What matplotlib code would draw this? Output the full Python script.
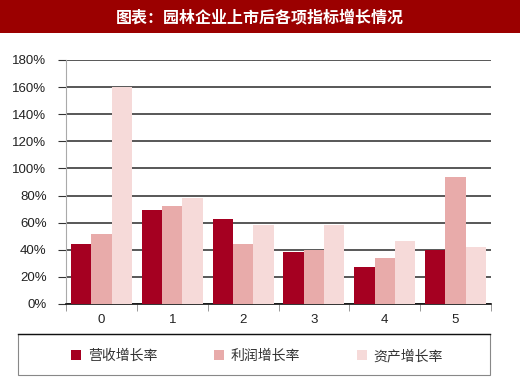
import matplotlib.pyplot as plt
import matplotlib.patches as mpatches
import numpy as np

plt.rcParams['font.family'] = ['Liberation Sans', 'Noto Sans CJK SC', 'DejaVu Sans']

# data
groups = ['0', '1', '2', '3', '4', '5']
revenue = [44, 69, 63, 38, 27.5, 40]
profit = [51.5, 72.5, 44, 40, 34, 94]
assets = [160, 78.5, 58.5, 58.5, 46.5, 42]
series_names = ['营收增长率', '利润增长率', '资产增长率']
colors = ['#A50021', '#E8ABAA', '#F6DAD9']

W, H = 520, 381
fig = plt.figure(figsize=(W / 100, H / 100), dpi=100)

# title bar
fig.patches.append(mpatches.Rectangle((0, 1 - 33 / H), 1, 33 / H, transform=fig.transFigure,
                                      facecolor='#9B0000', edgecolor='none', zorder=0))
fig.text(0.5, 1 - 17 / H, '图表：园林企业上市后各项指标增长情况', color='white',
         fontsize=11.5, fontweight='bold', ha='center', va='center',
         family=['Noto Sans CJK SC', 'DejaVu Sans'])

ax = fig.add_axes([66 / W, 1 - 304 / H, 425 / W, 244 / H])
x = np.arange(len(groups))
bw = 0.287
for i, (vals, c, name) in enumerate(zip([revenue, profit, assets], colors, series_names)):
    ax.bar(x + (i - 1) * bw, vals, width=bw, color=c, label=name, zorder=3)

ax.set_xlim(-0.5, len(groups) - 0.5)
ax.set_ylim(0, 180)
ax.set_yticks(np.arange(0, 181, 20))
ax.set_yticklabels([f'{v}%' for v in range(0, 181, 20)], fontsize=9.5, color='#222222')
ax.yaxis.grid(True, color='#2a2a2a', linewidth=1.1, zorder=0)

ax.set_xticks(x)
ax.set_xticklabels(groups, fontsize=9.5, color='#222222')
ax.set_xticks(np.arange(-0.5, len(groups), 1), minor=True)
ax.tick_params(axis='x', which='major', length=0, pad=7)
ax.tick_params(axis='x', which='minor', length=5, color='#888888')
ax.tick_params(axis='y', length=6, color='#333333', pad=8)

for s in ['top', 'right']:
    ax.spines[s].set_visible(False)
ax.spines['left'].set_color('#aaaaaa')
ax.spines['bottom'].set_color('#111111')
ax.spines['bottom'].set_linewidth(1.2)

# legend box
fig.patches.append(mpatches.Rectangle((18 / W, 1 - 375 / H), 472 / W, 41 / H,
                                      transform=fig.transFigure, facecolor='white',
                                      edgecolor='#888888', linewidth=0.8, zorder=1))
fig.lines.append(plt.Line2D([18 / W, 490 / W], [1 - 334 / H, 1 - 334 / H],
                            transform=fig.transFigure, color='#111111', linewidth=1.0, zorder=2))

handles, labels = ax.get_legend_handles_labels()
leg = fig.legend(handles, labels, loc='center', ncol=3,
                 bbox_to_anchor=(257 / W, 1 - 356 / H),
                 frameon=False,
                 handlelength=0.7, handleheight=0.7, handletextpad=0.5,
                 columnspacing=4.1, borderaxespad=0,
                 prop={'family': ['Noto Sans CJK SC', 'DejaVu Sans'], 'size': 10})
for t in leg.get_texts():
    t.set_color('#333333')

fig.savefig('out.png', dpi=100)
